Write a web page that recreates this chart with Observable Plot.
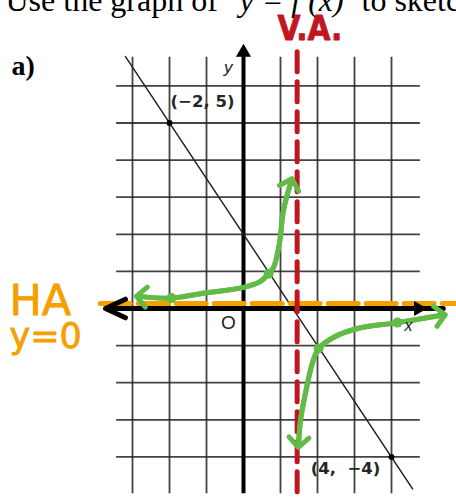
<!DOCTYPE html>
<html>
<head>
<meta charset="utf-8">
<script src="https://cdn.jsdelivr.net/npm/d3@7"></script>
<script src="https://cdn.jsdelivr.net/npm/@observablehq/plot@0.6"></script>
<style>
  html, body { margin: 0; padding: 0; background: #fff; }
  #chart svg { display: block; }
</style>
</head>
<body>
<div id="chart"></div>
<script>
// Grid: one square per unit
const gridX = [-3, -2, -1, 1, 2, 3, 4];
const gridY = [-4, -3, -2, -1, 1, 2, 3, 4, 5, 6];
const gridXExtent = [-3.43, 4.78];
const gridYExtent = [-4.99, 6.77];

// y = f(x): straight line through (−2, 5) and (4, −4)
const lineX = [-3.19, 4.57];
const lineY = [6.79, -4.86];
const pointX = [-2, 4];
const pointY = [5, -4];
const pointLabels = ["(−2, 5)", "(4,\u00a0 −4)"];

// Asymptotes of y = 1/f(x)
const verticalAsymptote = [1.45];
const horizontalAsymptote = [0];

// Sketch of y = 1/f(x): left branch (left arrow → up along the V.A.)
const leftBranchX = [-2.76, -1.95, -1.16, 0, 0.46, 0.68, 0.81, 0.97, 1.08, 1.27];
const leftBranchY = [0.32, 0.28, 0.40, 0.57, 0.73, 0.94, 1.10, 1.75, 2.64, 3.37];
// right branch (down along the V.A. → right towards y = 0)
const rightBranchX = [1.49, 1.54, 1.65, 1.86, 2.03, 2.43, 3.08, 4.16, 5.32];
const rightBranchY = [-3.61, -3.02, -2.40, -1.48, -1.08, -0.78, -0.54, -0.38, -0.19];
// highlighted points on the sketch
const keyX = [-1.95, 0.68, 2.03, 4.16];
const keyY = [0.28, 0.94, -1.08, -0.38];

// Text
const titleParts = ["Use the graph of", "y = f (x)", "to sketch the graph of"];
const partLabel = ["a)"];
const vaLabel = ["V.A."];
const haLabel = ["HA", "y=0"];
const axisLabels = ["y", "x", "O"];

const RED = "#c1161f";
const ORANGE = "#f5a000";
const GREEN = "#62bb46";

const points = pointX.map((x, i) => ({x, y: pointY[i], label: pointLabels[i]}));
const toRows = (xs, ys) => xs.map((x, i) => ({x, y: ys[i]}));
const leftBranch = toRows(leftBranchX, leftBranchY);
const rightBranch = toRows(rightBranchX, rightBranchY);
const keyPoints = toRows(keyX, keyY);

const serif = "'Liberation Serif', 'Times New Roman', serif";
const sans = "'Liberation Sans', Arial, sans-serif";
const hand = "'DejaVu Sans', sans-serif";

// A branch is drawn in both directions so that each end gets an arrowhead
const branch = (rows) => [rows, rows.slice().reverse()].map((r) =>
  Plot.line(r, {x: "x", y: "y", curve: "catmull-rom", stroke: GREEN, strokeWidth: 5,
                strokeLinecap: "round", strokeLinejoin: "round", markerEnd: "arrow"}));

const pointLabelStyle = {x: "x", y: "y", text: "label", fontSize: 16.5, fontWeight: "bold",
                         fontFamily: "'DejaVu Sans', sans-serif", fill: "#262626"};

const chart = Plot.plot({
  width: 456,
  height: 498,
  margin: 0,
  x: {domain: [-6.568, 5.757], axis: null},
  y: {domain: [-5.121, 8.302], axis: null},
  style: {background: "#fff", overflow: "visible"},
  marks: [
    // grid
    Plot.ruleX(gridX, {x: d => d, y1: gridYExtent[0], y2: gridYExtent[1], stroke: "#222", strokeWidth: 1.8, strokeOpacity: 0.85}),
    Plot.ruleY(gridY, {y: d => d, x1: gridXExtent[0], x2: gridXExtent[1], stroke: "#222", strokeWidth: 1.8, strokeOpacity: 0.85}),

    // y-axis with filled arrow on top
    Plot.ruleX([0], {y1: gridYExtent[0], y2: 6.9, stroke: "#000", strokeWidth: 4}),
    Plot.dot([0], {x: 0, y: 6.9, symbol: "triangle", r: 5.6, fill: "#000", stroke: "none"}),

    // straight line y = f(x) and its labelled points
    Plot.line(toRows(lineX, lineY), {x: "x", y: "y", stroke: "#222", strokeWidth: 1.5}),
    Plot.dot(points, {x: "x", y: "y", r: 3, fill: "#000", stroke: "none"}),
    Plot.text([points[0]], {...pointLabelStyle, dx: 33, dy: -21}),
    Plot.text([points[1]], {...pointLabelStyle, dx: -46, dy: 12}),

    // horizontal asymptote y = 0 (drawn just above the x-axis)
    Plot.ruleY(horizontalAsymptote, {y: d => d, x1: -3.86, x2: 5.757, dy: -5, stroke: ORANGE, strokeWidth: 5, strokeDasharray: "30,8", strokeLinecap: "round"}),

    // x-axis: open arrow on the left, filled arrow on the right
    Plot.arrow([0], {x1: 5.4, y1: 0, x2: -3.73, y2: 0, stroke: "#000", strokeWidth: 5, headLength: 6.6, headAngle: 50}),
    Plot.dot([0], {x: 4.73, y: 0, symbol: "triangle", rotate: 90, r: 5.6, fill: "#000", stroke: "none"}),

    // vertical asymptote
    Plot.ruleX(verticalAsymptote, {x: d => d, y1: -4.95, y2: 6.95, stroke: RED, strokeWidth: 5, strokeDasharray: "20,10", strokeLinecap: "round"}),

    // sketch of y = 1/f(x)
    ...branch(leftBranch),
    ...branch(rightBranch),
    Plot.dot(keyPoints, {x: "x", y: "y", r: 5, fill: GREEN, stroke: "none"}),

    // axis letters
    Plot.text([axisLabels[0]], {x: -0.41, y: 6.5, text: d => d, fontSize: 17, fontStyle: "italic", fontFamily: sans, fill: "#222"}),
    Plot.text([axisLabels[1]], {x: 4.46, y: -0.46, text: d => d, fontSize: 16, fontStyle: "italic", fontFamily: sans, fill: "#222"}),
    Plot.text([axisLabels[2]], {x: -0.41, y: -0.38, text: d => d, fontSize: 19, fontFamily: sans, fill: "#222"}),

    // heading line (runs off the top edge)
    Plot.text([titleParts[0]], {frameAnchor: "top-left", dx: 5, dy: 10, text: d => d, lineAnchor: "bottom", textAnchor: "start", fontSize: 32, fontFamily: serif, fill: "#000"}),
    Plot.text([titleParts[1]], {frameAnchor: "top-left", dx: 239, dy: 10, text: d => d, lineAnchor: "bottom", textAnchor: "start", fontSize: 32, fontStyle: "italic", fontFamily: serif, fill: "#000"}),
    Plot.text([titleParts[2]], {frameAnchor: "top-left", dx: 361, dy: 10, text: d => d, lineAnchor: "bottom", textAnchor: "start", fontSize: 32, fontFamily: serif, fill: "#000"}),
    Plot.text(partLabel, {frameAnchor: "top-left", dx: 11, dy: 74, text: d => d, lineAnchor: "bottom", textAnchor: "start", fontSize: 28, fontWeight: "bold", fontFamily: serif, fill: "#000"}),

    // handwritten notes
    Plot.text(vaLabel, {frameAnchor: "top-left", dx: 277, dy: 39, text: d => d, lineAnchor: "bottom", textAnchor: "start", fontSize: 33, fontWeight: "bold", fontFamily: "'Liberation Sans Narrow', 'DejaVu Sans Condensed', sans-serif", fill: RED, stroke: RED, strokeWidth: 0.8}),
    Plot.text([haLabel[0]], {frameAnchor: "top-left", dx: 9, dy: 314, text: d => d, lineAnchor: "bottom", textAnchor: "start", fontSize: 43, fontFamily: hand, fill: ORANGE, stroke: ORANGE, strokeWidth: 0.8}),
    Plot.text([haLabel[1]], {frameAnchor: "top-left", dx: 9, dy: 347, text: d => d, lineAnchor: "bottom", textAnchor: "start", fontSize: 35, fontFamily: hand, fill: ORANGE, stroke: ORANGE, strokeWidth: 0.8})
  ]
});

document.getElementById("chart").append(chart);
</script>
</body>
</html>
